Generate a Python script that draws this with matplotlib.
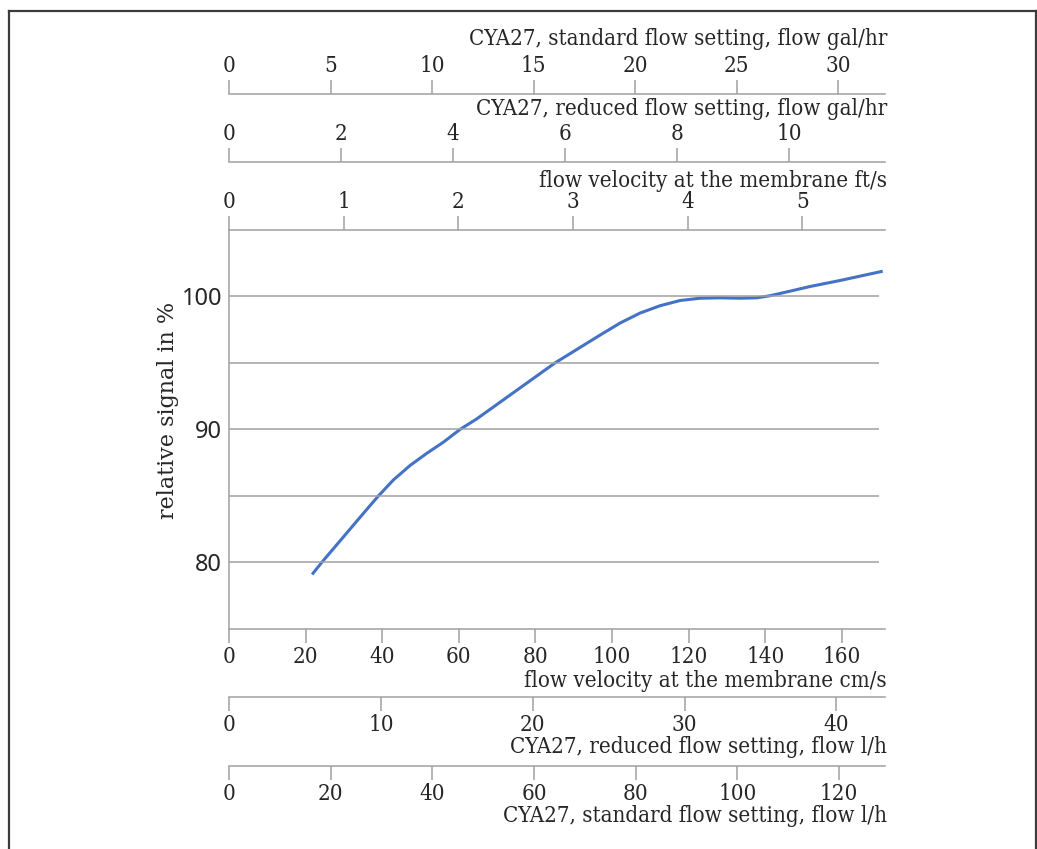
import matplotlib
matplotlib.use("Agg")
import matplotlib.pyplot as plt
from matplotlib.lines import Line2D

plt.rcParams['font.family'] = "DejaVu Serif"
plt.rcParams['font.stretch'] = "condensed"

# relative signal vs flow velocity at the membrane (cm/s)
velocity_cms = [21.7, 24.2, 36.0, 39.0, 42.9, 47.3, 51.6, 56.0, 60.3, 64.7,
                85.1, 96.9, 102.1, 107.3, 112.5, 117.8, 123.0, 128.2, 133.4,
                137.8, 141.3, 146.5, 151.7, 159.5, 170.7]
signal_pct = [79.1, 80.0, 84.0, 85.0, 86.2, 87.3, 88.2, 89.05, 90.0, 90.8,
              95.0, 97.1, 98.0, 98.75, 99.3, 99.7, 99.87, 99.9, 99.87,
              99.9, 100.06, 100.4, 100.75, 101.2, 101.9]

y_ticks = [80, 90, 100]
y_grid = [80, 85, 90, 95, 100]

cms_ticks = [0, 20, 40, 60, 80, 100, 120, 140, 160]
fts_ticks = [0, 1, 2, 3, 4, 5]
red_galhr_ticks = [0, 2, 4, 6, 8, 10]
std_galhr_ticks = [0, 5, 10, 15, 20, 25, 30]
red_lh_ticks = [0, 10, 20, 30, 40]
std_lh_ticks = [0, 20, 40, 60, 80, 100, 120]

W, H = 1037, 849
fig = plt.figure(figsize=(W / 100, H / 100), dpi=100)

grey = '#a0a0a0'
txt = '#262626'
L, R = 229 / W, 885 / W
B, T = 1 - 629 / H, 1 - 230 / H

# frame around the figure
frame = dict(color='#3c3c3c', lw=1.6, transform=fig.transFigure)
fig.add_artist(Line2D([9 / W, 1036 / W], [1 - 11 / H, 1 - 11 / H], **frame))
fig.add_artist(Line2D([9 / W, 9 / W], [0, 1 - 11 / H], **frame))
fig.add_artist(Line2D([1036 / W, 1036 / W], [0, 1 - 11 / H], **frame))

# main plot
ax = fig.add_axes([L, B, R - L, T - B])
ax.plot(velocity_cms, signal_pct, color='#4472C4', lw=2.2, solid_capstyle='butt')
ax.hlines(y_grid, 0, 169.7, color=grey, lw=1.1)
ax.set_xlim(0, 171.3)
ax.set_ylim(75, 105)
for s in ['top', 'right']:
    ax.spines[s].set_visible(False)
for s in ['left', 'bottom']:
    ax.spines[s].set_color(grey)
    ax.spines[s].set_linewidth(1.1)
ax.set_yticks(y_ticks)
ax.set_yticklabels([str(v) for v in y_ticks], family='Noto Sans', fontsize=17, color=txt)
ax.tick_params(axis='y', length=0, pad=5)
ax.set_xticks(cms_ticks)
ax.tick_params(axis='x', direction='out', length=10, width=1.1, color=grey,
               labelsize=16, labelcolor=txt, pad=2)
fig.text(168 / W, 1 - 410 / H, 'relative signal in %', rotation=90,
         ha='center', va='center', fontsize=16, fontstretch='normal', color=txt)


def scale(y_px, xmax, ticks, title, title_px, top):
    a = fig.add_axes([L, 1 - y_px / H, R - L, 1e-4])
    a.set_xlim(0, xmax)
    a.set_yticks([])
    a.patch.set_visible(False)
    for s in a.spines.values():
        s.set_visible(False)
    side = 'top' if top else 'bottom'
    a.spines[side].set_visible(True)
    a.spines[side].set_color(grey)
    a.spines[side].set_linewidth(1.1)
    a.xaxis.set_ticks_position(side)
    a.set_xticks(ticks)
    a.tick_params(axis='x', direction='out', length=10, width=1.1, color=grey,
                  labelsize=16, labelcolor=txt, pad=2)
    fig.text(887 / W, 1 - title_px / H, title, ha='right', va='center',
             fontsize=16, color=txt)
    return a


scale(94, 32.3, std_galhr_ticks, 'CYA27, standard flow setting, flow gal/hr', 39, True)
scale(162, 11.71, red_galhr_ticks, 'CYA27, reduced flow setting, flow gal/hr', 109, True)
scale(230, 5.72, fts_ticks, 'flow velocity at the membrane ft/s', 181, True)
fig.text(887 / W, 1 - 681 / H, 'flow velocity at the membrane cm/s', ha='right',
         va='center', fontsize=16, color=txt)
scale(697, 43.2, red_lh_ticks, 'CYA27, reduced flow setting, flow l/h', 747, False)
scale(766, 129.1, std_lh_ticks, 'CYA27, standard flow setting, flow l/h', 816, False)

fig.savefig('out.png', dpi=100, facecolor='white')
